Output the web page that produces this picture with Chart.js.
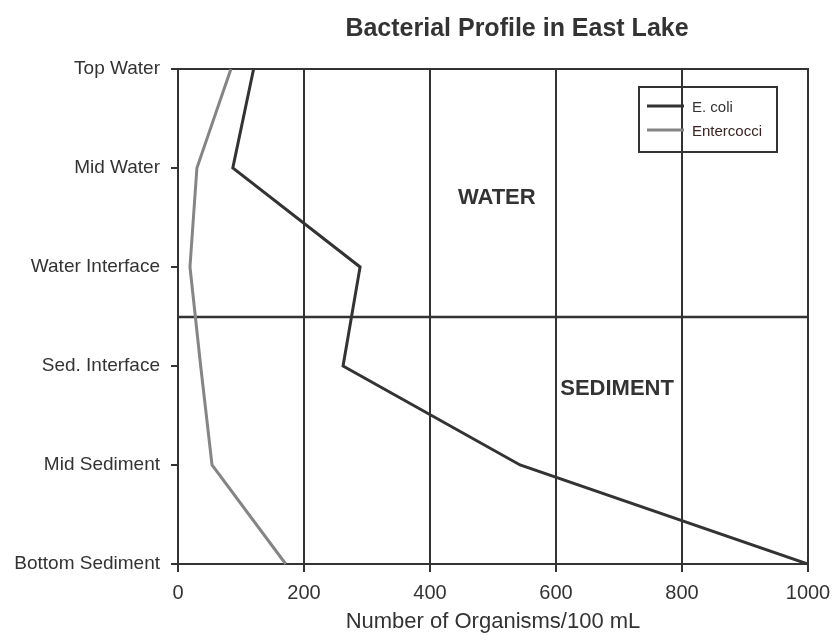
<!DOCTYPE html>
<html>
<head>
<meta charset="utf-8">
<title>Bacterial Profile in East Lake</title>
<script src="https://cdn.jsdelivr.net/npm/chart.js@4/dist/chart.umd.min.js"></script>
<style>
  html, body { margin: 0; padding: 0; background: #fff; }
  #wrap { width: 837px; height: 643px; position: relative; }
</style>
</head>
<body>
<div id="wrap"><canvas id="chart"></canvas></div>
<script>
// Sampling depths, top of the water column down to the bottom sediment
const categories = ['Top Water', 'Mid Water', 'Water Interface', 'Sed. Interface', 'Mid Sediment', 'Bottom Sediment'];
// Organisms per 100 mL at each depth
const ecoli = [120, 87, 289, 262, 543, 1000];
const enterococci = [84, 30, 19, 36, 54, 171];
// Axis ticks
const xTicks = [0, 200, 400, 600, 800, 1000];
const seriesNames = ['E. coli', 'Entercocci'];

const FONT = "'Liberation Sans', Arial, Helvetica, sans-serif";
const DARK = '#333333';
const GREY = '#858585';
const TEXT = '#333333';

// Frame, water/sediment divider, zone labels, legend and title
const decorations = {
  id: 'decorations',
  beforeDatasetsDraw(chart) {
    const { ctx, chartArea: a, scales: { y } } = chart;
    ctx.save();
    ctx.strokeStyle = DARK;
    ctx.lineWidth = 2;
    ctx.strokeRect(a.left, a.top, a.right - a.left, a.bottom - a.top);
    // boundary between water and sediment, halfway between the two interfaces
    const yb = Math.round(y.getPixelForValue(2.5));
    ctx.lineWidth = 2.5;
    ctx.beginPath();
    ctx.moveTo(a.left, yb);
    ctx.lineTo(a.right, yb);
    ctx.stroke();
    ctx.restore();
  },
  afterDraw(chart) {
    const { ctx, scales: { x, y } } = chart;
    ctx.save();
    // zone labels
    ctx.fillStyle = TEXT;
    ctx.font = 'bold 22px ' + FONT;
    ctx.textAlign = 'center';
    ctx.textBaseline = 'middle';
    ctx.fillText('WATER', x.getPixelForValue(506), y.getPixelForValue(1.3));
    ctx.fillText('SEDIMENT', x.getPixelForValue(697), y.getPixelForValue(3.235));

    // legend
    const lx = 639, ly = 87, lw = 138, lh = 65;
    ctx.strokeStyle = DARK;
    ctx.lineWidth = 2;
    ctx.strokeRect(lx, ly, lw, lh);
    ctx.font = '15px ' + FONT;
    ctx.textAlign = 'left';
    chart.data.datasets.forEach((ds, i) => {
      const yy = ly + 19 + i * 24;
      ctx.strokeStyle = ds.borderColor;
      ctx.lineWidth = 3;
      ctx.beginPath();
      ctx.moveTo(lx + 8, yy);
      ctx.lineTo(lx + 45, yy);
      ctx.stroke();
      ctx.fillStyle = i === 0 ? '#333' : '#3a2424';
      ctx.fillText(ds.label, lx + 53, yy + 2);
    });

    // title
    ctx.fillStyle = TEXT;
    ctx.font = 'bold 25px ' + FONT;
    ctx.textAlign = 'center';
    ctx.fillText('Bacterial Profile in East Lake', 517, 29);
    ctx.restore();
  }
};

new Chart(document.getElementById('chart'), {
  type: 'line',
  data: {
    labels: categories,
    datasets: [
      { label: seriesNames[0], data: ecoli, borderColor: DARK, borderWidth: 3, pointRadius: 0, tension: 0 },
      { label: seriesNames[1], data: enterococci, borderColor: GREY, borderWidth: 3, pointRadius: 0, tension: 0 }
    ]
  },
  options: {
    indexAxis: 'y',
    responsive: true,
    maintainAspectRatio: false,
    animation: false,
    layout: { padding: { top: 69, right: 29, left: 0, bottom: 0 } },
    plugins: {
      legend: { display: false },
      title: { display: false },
      tooltip: { enabled: false }
    },
    scales: {
      x: {
        type: 'linear',
        min: 0,
        max: 1000,
        afterBuildTicks(scale) { scale.ticks = xTicks.map(v => ({ value: v })); },
        ticks: {
          autoSkip: false, color: TEXT, font: { family: FONT, size: 20 }, padding: 9, maxRotation: 0,
          callback: v => String(v)
        },
        grid: { color: DARK, lineWidth: 2, tickLength: 8 },
        border: { color: DARK, width: 2 },
        title: { display: true, text: 'Number of Organisms/100 mL', color: TEXT, font: { family: FONT, size: 22 }, padding: { top: 0, bottom: 8 } },
        afterFit(scale) {
          scale.height = 79;
          scale.paddingLeft = 0;
          scale.paddingRight = 0;
        }
      },
      y: {
        type: 'category',
        offset: false,
        ticks: { autoSkip: false, color: TEXT, font: { family: FONT, size: 19 }, padding: 11 },
        grid: { drawOnChartArea: false, color: DARK, lineWidth: 2, tickLength: 7 },
        border: { color: DARK, width: 2 },
        afterFit(scale) {
          scale.width = 178;
          scale.paddingTop = 0;
          scale.paddingBottom = 0;
        }
      }
    }
  },
  plugins: [decorations]
});
</script>
</body>
</html>
